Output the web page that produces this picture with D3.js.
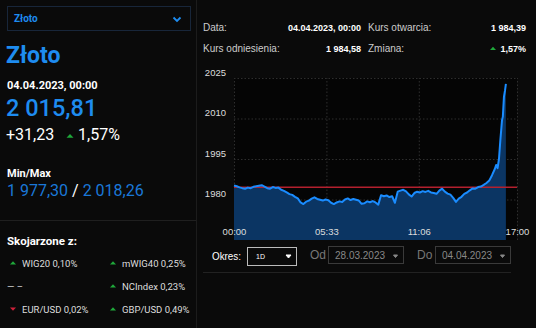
<!DOCTYPE html>
<html><head><meta charset="utf-8">
<script src="https://cdn.jsdelivr.net/npm/d3@7"></script>
<style>
html,body{margin:0;padding:0;background:#0a0a0a;}
svg{display:block;font-family:Roboto,"Noto Sans",sans-serif;}
</style></head>
<body><svg id="c" width="536" height="328"></svg>
<script>
// ---- data ----
const minutes = [0,10,20,30,40,50,60,70,80,90,100,110,120,130,140,150,160,170,180,190,200,210,220,230,240,250,260,270,280,290,300,310,320,330,340,350,360,370,380,390,400,410,420,430,440,450,460,470,480,490,500,510,520,530,540,550,560,570,580,590,600,610,620,630,640,650,660,670,680,690,700,710,720,730,740,750,760,770,780,790,800,810,820,830,840,850,860,870,880,890,900,910,920,930,940,945,950,955,960,966,969,973,977,980];
const values = [1985.2,1984.9,1984.5,1984.2,1984.0,1984.4,1984.2,1984.7,1984.9,1985.1,1985.3,1984.8,1984.2,1984.0,1984.6,1984.3,1984.4,1983.6,1983.2,1982.6,1982.0,1981.7,1981.0,1980.4,1978.9,1978.3,1979.2,1979.6,1980.3,1980.8,1980.2,1979.9,1979.6,1980.0,1979.7,1978.8,1978.3,1978.9,1979.3,1979.1,1980.0,1980.4,1979.8,1980.2,1979.9,1979.6,1978.4,1978.6,1979.3,1979.0,1979.4,1978.9,1978.1,1981.6,1981.2,1981.5,1980.9,1981.2,1978.8,1982.9,1983.3,1983.6,1983.0,1981.9,1981.1,1982.4,1982.9,1982.6,1983.1,1982.8,1983.2,1982.6,1982.4,1982.1,1983.3,1984.0,1982.9,1982.2,1981.8,1980.6,1979.1,1980.3,1981.0,1982.1,1982.6,1983.4,1984.1,1984.0,1984.6,1984.8,1985.4,1986.1,1987.0,1989.0,1991.3,1992.8,1991.6,1995.0,2002.0,2009.4,2010.7,2018.1,2020.5,2022.8];
const refValue = 1984.58;
const yTicks = [1980,1995,2010,2025];
const xTickMinutes = [0,333,666,1020];
const xTickLabels = ["00:00","05:33","11:06","17:00"];
const related = [
  {name:"WIG20 0,10%", dir:"up", col:0, row:0},
  {name:"mWIG40 0,25%", dir:"up", col:1, row:0},
  {name:"— –", dir:"none", col:0, row:1},
  {name:"NCIndex 0,23%", dir:"up", col:1, row:1},
  {name:"EUR/USD 0,02%", dir:"down", col:0, row:2},
  {name:"GBP/USD 0,49%", dir:"up", col:1, row:2}
];

const svg = d3.select("#c");
const BLUE = "#1e8cf0", GREEN = "#1fa83a", RED = "#d0213a";

// panel separators
svg.append("line").attr("x1",196.5).attr("x2",196.5).attr("y1",0).attr("y2",328).attr("stroke","#1c1c1c");
svg.append("line").attr("x1",0).attr("x2",196).attr("y1",220.5).attr("y2",220.5).attr("stroke","#1f1f1f");

function tri(g,x,y,dir,size){
  const s=size||3.5;
  const p = dir==="up" ? [[x-s,y+s*0.5],[x+s,y+s*0.5],[x,y-s*0.6]] : [[x-s,y-s*0.5],[x+s,y-s*0.5],[x,y+s*0.6]];
  g.append("path").attr("d","M"+p.map(d=>d.join(",")).join("L")+"Z").attr("fill",dir==="up"?GREEN:RED);
}

// ---- left panel ----
const L = svg.append("g");
L.append("rect").attr("x",7.5).attr("y",6.5).attr("width",183).attr("height",24).attr("fill","none").attr("stroke","#18263a");
L.append("text").attr("x",14).attr("y",22).attr("fill",BLUE).attr("font-size",10).attr("font-weight",700).text("Złoto");
L.append("path").attr("d","M173.5,17.5L177,21L180.5,17.5").attr("fill","none").attr("stroke",BLUE).attr("stroke-width",1.8);
L.append("text").attr("x",6).attr("y",63).attr("fill",BLUE).attr("font-size",23).attr("font-weight",700).text("Złoto");
L.append("text").attr("x",7).attr("y",89).attr("fill","#fff").attr("font-size",11).attr("font-weight",700).text("04.04.2023, 00:00");
L.append("text").attr("x",6).attr("y",115.5).attr("fill",BLUE).attr("font-size",23.5).attr("font-weight",500).text("2 015,81");
L.append("text").attr("x",6).attr("y",140).attr("fill","#fff").attr("font-size",16).text("+31,23");
tri(L,70,136,"up",3.5);
L.append("text").attr("x",78).attr("y",140).attr("fill","#fff").attr("font-size",16).text("1,57%");
L.append("text").attr("x",7).attr("y",177).attr("fill","#fff").attr("font-size",11).attr("font-weight",700).text("Min/Max");
const mm = L.append("text").attr("x",7).attr("y",196).attr("font-size",16).attr("fill","#1a78d8");
mm.append("tspan").text("1 977,30 ");
mm.append("tspan").attr("fill","#fff").text("/");
mm.append("tspan").text(" 2 018,26");
L.append("text").attr("x",7).attr("y",245).attr("fill","#fff").attr("font-size",11.5).attr("font-weight",700).text("Skojarzone z:");
related.forEach(r=>{
  const x0 = r.col===0 ? 13 : 113;
  const y0 = 263 + r.row*23;
  if(r.dir==="none"){
    L.append("text").attr("x",7).attr("y",y0+3.5).attr("fill","#ddd").attr("font-size",9.5).text(r.name);
  } else {
    tri(L,x0,y0,r.dir,3);
    L.append("text").attr("x",x0+9).attr("y",y0+3.5).attr("fill","#ddd").attr("font-size",9.5).text(r.name);
  }
});

// ---- right header ----
const H = svg.append("g").attr("font-family","'Liberation Sans',Arial,sans-serif").attr("font-size",10);
H.append("text").attr("x",203).attr("y",31).attr("fill","#ccc").text("Data:");
H.append("text").attr("x",361).attr("y",31).attr("fill","#fff").attr("font-weight",700).attr("font-size",9).attr("text-anchor","end").text("04.04.2023, 00:00");
H.append("text").attr("x",368).attr("y",31).attr("fill","#ccc").text("Kurs otwarcia:");
H.append("text").attr("x",526).attr("y",31).attr("fill","#fff").attr("font-weight",700).attr("font-size",9).attr("text-anchor","end").text("1 984,39");
H.append("text").attr("x",203).attr("y",52).attr("fill","#ccc").text("Kurs odniesienia:");
H.append("text").attr("x",361).attr("y",52).attr("fill","#fff").attr("font-weight",700).attr("font-size",9).attr("text-anchor","end").text("1 984,58");
H.append("text").attr("x",368).attr("y",52).attr("fill","#ccc").text("Zmiana:");
H.append("text").attr("x",526).attr("y",52).attr("fill","#fff").attr("font-weight",700).attr("font-size",9).attr("text-anchor","end").text("1,57%");
tri(H,493,48.5,"up",3);

// ---- chart ----
const x = d3.scaleLinear().domain([0,1020]).range([234,517]);
const y = d3.scaleLinear().domain([1965,2025]).range([240,78]);
const data = minutes.map((m,i)=>({m, v:values[i]}));

svg.append("rect").attr("x",234).attr("y",78).attr("width",283).attr("height",162).attr("fill","#050505");

// gridlines
const gy = svg.append("g").attr("transform","translate(234,0)")
  .call(d3.axisLeft(y).tickValues(yTicks).tickSize(-283).tickFormat(""));
gy.select(".domain").remove();
gy.selectAll("line").attr("stroke","#2e2e2e").attr("stroke-dasharray","1.5,2");
const gx = svg.append("g").attr("transform","translate(0,240)")
  .call(d3.axisBottom(x).tickValues(xTickMinutes).tickSize(-162).tickFormat(""));
gx.select(".domain").remove();
gx.selectAll("line").attr("stroke","#2e2e2e").attr("stroke-dasharray","1.5,2");

svg.append("path").datum(data).attr("fill","#0b3563")
  .attr("d",d3.area().x(d=>x(d.m)).y0(240).y1(d=>y(d.v)));
svg.append("line").attr("x1",x(0)).attr("x2",x(1020)).attr("y1",y(refValue)).attr("y2",y(refValue))
  .attr("stroke","#b4202e").attr("stroke-width",1.5);
svg.append("path").datum(data).attr("fill","none").attr("stroke","#1a8cff").attr("stroke-width",2).attr("stroke-linejoin","round")
  .attr("d",d3.line().x(d=>x(d.m)).y(d=>y(d.v)));

// axis labels
const ay = svg.append("g").attr("transform","translate(226,-6)")
  .call(d3.axisLeft(y).tickValues(yTicks).tickSize(0).tickPadding(0).tickFormat(d3.format("d")));
ay.select(".domain").remove();
ay.selectAll("text").attr("fill","#ddd").attr("font-size",9.5).attr("font-family","'Liberation Sans',Arial,sans-serif");
const ax = svg.append("g").attr("transform","translate(0,228.5)")
  .call(d3.axisBottom(x).tickValues(xTickMinutes).tickSize(0).tickPadding(0).tickFormat((d,i)=>xTickLabels[i]));
ax.select(".domain").remove();
ax.selectAll("text").attr("fill","#ddd").attr("font-size",9.5).attr("font-family","'Liberation Sans',Arial,sans-serif");

// ---- controls ----
const C = svg.append("g").attr("font-family","'Liberation Sans',Arial,sans-serif");
C.append("text").attr("x",212).attr("y",260).attr("fill","#fff").attr("font-size",11.5).attr("textLength",29).attr("lengthAdjust","spacingAndGlyphs").text("Okres:");
C.append("rect").attr("x",247.5).attr("y",247.5).attr("width",49).attr("height",18).attr("fill","none").attr("stroke","#bbb");
C.append("text").attr("x",256).attr("y",259).attr("fill","#fff").attr("font-size",7).text("1D");
C.append("path").attr("d","M286,255L288.5,258L291,255Z").attr("fill","#fff").attr("stroke","#fff").attr("stroke-width",1);
C.append("text").attr("x",310).attr("y",259).attr("fill","#777").attr("font-size",12).text("Od");
C.append("rect").attr("x",328.5).attr("y",246.5).attr("width",75).attr("height",17).attr("fill","none").attr("stroke","#3a3a3a");
C.append("text").attr("x",335).attr("y",258.5).attr("fill","#888").attr("font-size",10).text("28.03.2023");
C.append("path").attr("d","M393.5,255L395.5,257.5L397.5,255Z").attr("fill","#888").attr("stroke","#888");
C.append("text").attr("x",417).attr("y",259).attr("fill","#777").attr("font-size",12).text("Do");
C.append("rect").attr("x",435.5).attr("y",246.5).attr("width",75).attr("height",17).attr("fill","none").attr("stroke","#3a3a3a");
C.append("text").attr("x",442).attr("y",258.5).attr("fill","#888").attr("font-size",10).text("04.04.2023");
C.append("path").attr("d","M500.5,255L502.5,257.5L504.5,255Z").attr("fill","#888").attr("stroke","#888");
C.append("line").attr("x1",203).attr("x2",511).attr("y1",272.5).attr("y2",272.5).attr("stroke","#222");
</script></body></html>
